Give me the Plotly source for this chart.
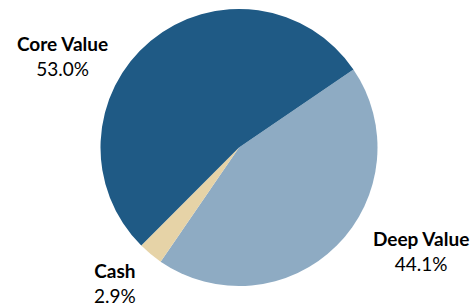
import plotly.graph_objects as go

labels = ["Deep Value", "Cash", "Core Value"]
values = [44.1, 2.9, 53.0]
colors = ["#8eabc3", "#e6d3a7", "#1f5a85"]
# label anchor positions (pixels) for the outside labels
label_x = [421, 115, 63]
label_y = [251, 283, 56]

W, H = 474, 306
fig = go.Figure(go.Pie(
    labels=labels, values=values, sort=False, direction="clockwise",
    rotation=55.7, marker=dict(colors=colors, line=dict(width=0)),
    textinfo="none", hoverinfo="label+percent",
    domain=dict(x=[(239-138.5)/W, (239+138.5)/W], y=[(158.5-138.5)/H, (158.5+138.5)/H]),
    showlegend=False,
))
for lab, v, lx, ly in zip(labels, values, label_x, label_y):
    fig.add_annotation(x=lx/W, y=1-ly/H, xref="paper", yref="paper",
                       text=f"<b>{lab}</b><br>{v:.1f}%", showarrow=False,
                       font=dict(family="Lato", size=19, color="#000000"),
                       align="center", xanchor="center", yanchor="middle")
fig.update_layout(width=W, height=H, margin=dict(l=0, r=0, t=0, b=0),
                  paper_bgcolor="white", plot_bgcolor="white")
fig.write_html("out.html", post_script="document.body.style.margin='0';",
               config={"displayModeBar": False})
